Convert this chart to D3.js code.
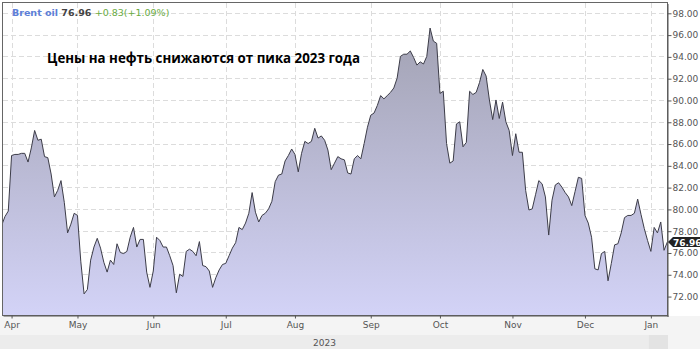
<!DOCTYPE html>
<html>
<head>
<meta charset="utf-8">
<script src="https://cdn.jsdelivr.net/npm/d3@7/dist/d3.min.js"></script>
<style>
	body { margin: 0; background: #fff; }
	svg { display: block; font-family: "DejaVu Sans", sans-serif; }
</style>
</head>
<body>
<svg id="chart" width="700" height="349"></svg>
<script>
// trading days run from startDate to endDate, weekends and holidays skipped
const startDate = "2023-03-29";
const endDate = "2024-01-09";
const holidays = ["2023-12-25", "2024-01-01"];

// Brent closes, one array per month
const closesMar = [78.5, 79.3, 79.8];
const closesApr = [84.9, 85.0, 85.0, 85.1, 85.1, 84.3, 85.6, 87.2, 86.3, 86.4,
	84.8, 84.7, 83.2, 81.1, 81.7, 82.6, 80.6, 77.8, 78.6, 79.6];
const closesMay = [79.4, 75.2, 72.2, 72.6, 75.3, 76.5, 77.3, 76.4, 75.1, 74.2,
	75.3, 74.9, 76.8, 76.0, 75.9, 76.1, 77.4, 78.3, 76.5, 77.2, 77.2, 74.2, 72.8];
const closesJun = [74.3, 77.4, 77.1, 76.5, 76.5, 75.7, 74.8, 72.3, 74.0, 73.8,
	76.1, 76.3, 76.1, 75.7, 77.0, 74.8, 74.7, 74.3, 72.8, 73.7, 74.4, 74.9];
const closesJul = [75.0, 75.7, 76.4, 76.9, 78.3, 78.1, 78.7, 79.6, 81.5, 79.7,
	78.8, 79.4, 79.6, 80.0, 80.7, 82.5, 83.1, 83.2, 84.4, 84.9, 85.5];
const closesAug = [85.0, 83.4, 85.1, 86.2, 86.0, 86.2, 87.4, 86.5, 86.7, 86.3,
	85.4, 83.6, 84.2, 84.8, 84.6, 84.5, 83.3, 83.2, 84.6, 84.9, 84.6, 86.0, 87.5];
const closesSep = [88.6, 88.8, 89.5, 90.4, 90.1, 90.4, 90.7, 91.1, 92.0, 94.0,
	94.2, 94.2, 94.5, 93.9, 93.2, 93.5, 93.3, 94.0, 96.6, 95.4, 95.2];
const closesOct = [90.6, 90.8, 86.0, 84.2, 84.4, 87.8, 88.0, 85.7, 86.1, 90.8,
	90.5, 90.7, 91.6, 92.8, 92.2, 90.0, 88.2, 90.0, 88.3, 89.8, 88.0, 87.2];
const closesNov = [84.9, 86.9, 85.2, 85.2, 81.7, 79.9, 80.0, 81.3, 82.6, 82.3,
	81.1, 77.6, 80.8, 82.2, 82.4, 82.0, 81.5, 81.1, 80.3, 81.6, 82.9, 82.8];
const closesDec = [79.4, 78.7, 77.4, 74.5, 74.4, 75.9, 76.1, 73.4, 75.0, 76.7,
	76.8, 77.8, 79.2, 79.4, 79.4, 79.6, 80.9, 79.5, 78.2, 77.1];
const closesJan = [76.1, 78.3, 77.8, 78.8, 76.2, 76.96];

const monthLabels = ["Apr", "May", "Jun", "Jul", "Aug", "Sep", "Oct", "Nov", "Dec", "Jan"];
const yearLabels = ["2023", ""];
const yTicks = [72, 74, 76, 78, 80, 82, 84, 86, 88, 90, 92, 94, 96, 98];

const instrument = "Brent oil";
const lastPrice = "76.96";
const change = "+0.83(+1.09%)";
const title = "Цены на нефть снижаются от пика 2023 года";

const closes = [].concat(closesMar, closesApr, closesMay, closesJun, closesJul,
	closesAug, closesSep, closesOct, closesNov, closesDec, closesJan);

// list of trading days
const fmt = d3.timeFormat("%Y-%m-%d");
const days = d3.timeDay
	.range(new Date(startDate + "T00:00"), d3.timeDay.offset(new Date(endDate + "T00:00"), 1))
	.filter((d) => d.getDay() !== 0 && d.getDay() !== 6 && !holidays.includes(fmt(d)));

const data = days.map((d, i) => ({ date: d, value: closes[i] }));

// first trading day of every month -> month tick
const monthStarts = [];
data.forEach((d, i) => {
	if (i > 0 && d.date.getMonth() !== data[i - 1].date.getMonth()) monthStarts.push(i);
});
const yearStarts = [0];
data.forEach((d, i) => {
	if (i > 0 && d.date.getFullYear() !== data[i - 1].date.getFullYear()) yearStarts.push(i);
});

const plot = { left: 3, right: 668, top: 3, bottom: 316 };

const svg = d3.select("#chart");

const x = d3.scaleLinear().domain([0.4, 202.2]).range([plot.left, plot.right]);
const y = d3.scaleLinear().domain([70.17, 98.9]).range([plot.bottom, plot.top]);

// bottom strips
svg.append("rect").attr("x", 0).attr("y", plot.bottom).attr("width", 700).attr("height", 349 - plot.bottom)
	.attr("fill", "#f4f4f4");
const yearEdges = yearStarts.map((i) => (i === 0 ? 0 : x(i) - 2)).concat([plot.right]);
svg.selectAll("rect.year").data(yearLabels).join("rect")
	.attr("class", "year")
	.attr("x", (d, i) => yearEdges[i])
	.attr("y", 335)
	.attr("width", (d, i) => yearEdges[i + 1] - yearEdges[i])
	.attr("height", 14)
	.attr("fill", (d, i) => (i === 0 ? "#ececec" : "#e3e3e3"));
svg.selectAll("text.year").data(yearLabels).join("text")
	.attr("class", "year")
	.attr("x", (d, i) => (yearEdges[i] + yearEdges[i + 1]) / 2)
	.attr("y", 346)
	.attr("text-anchor", "middle")
	.attr("font-size", 9)
	.attr("fill", "#555")
	.text((d) => d);

svg.append("rect").attr("x", plot.left).attr("y", plot.top)
	.attr("width", plot.right - plot.left).attr("height", plot.bottom - plot.top)
	.attr("fill", "#fff");

// grid
svg.append("g").selectAll("line").data(yTicks).join("line")
	.attr("x1", plot.left).attr("x2", plot.right)
	.attr("y1", (d) => Math.round(y(d)) + 0.5).attr("y2", (d) => Math.round(y(d)) + 0.5)
	.attr("stroke", "#dcdcdc").attr("stroke-dasharray", "5,3");
svg.append("g").selectAll("line").data(monthStarts).join("line")
	.attr("x1", (d) => Math.round(x(d)) + 0.5).attr("x2", (d) => Math.round(x(d)) + 0.5)
	.attr("y1", plot.top).attr("y2", plot.bottom)
	.attr("stroke", "#dcdcdc").attr("stroke-dasharray", "5,3");

// gradient for the area
const grad = svg.append("defs").append("linearGradient")
	.attr("id", "fill").attr("gradientUnits", "userSpaceOnUse")
	.attr("x1", 0).attr("x2", 0).attr("y1", y(96.6)).attr("y2", plot.bottom);
grad.append("stop").attr("offset", "0").attr("stop-color", "#a2a2b3");
grad.append("stop").attr("offset", "1").attr("stop-color", "#d3d3f7");

svg.select("defs").append("clipPath").attr("id", "clip")
	.append("rect").attr("x", plot.left).attr("y", plot.top)
	.attr("width", plot.right - plot.left).attr("height", plot.bottom - plot.top);

const area = d3.area()
	.x((d, i) => x(i))
	.y0(plot.bottom)
	.y1((d) => y(d.value));
const line = d3.line()
	.x((d, i) => x(i))
	.y((d) => y(d.value));

const g = svg.append("g").attr("clip-path", "url(#clip)");
g.append("path").datum(data).attr("d", area).attr("fill", "url(#fill)");
g.append("path").datum(data).attr("d", line)
	.attr("fill", "none").attr("stroke", "#3c3c48").attr("stroke-width", 1);

// frame
svg.append("rect").attr("x", plot.left - 0.5).attr("y", plot.top - 0.5)
	.attr("width", plot.right - plot.left).attr("height", plot.bottom - plot.top)
	.attr("fill", "none").attr("stroke", "#666");

// axes
const yAxis = svg.append("g")
	.attr("transform", "translate(" + (plot.right - 0.5) + ",0.5)")
	.call(d3.axisRight(y).tickValues(yTicks).tickFormat(d3.format(".2f")).tickSize(4).tickSizeOuter(0));
yAxis.select(".domain").attr("stroke", "#555");
yAxis.selectAll(".tick line").attr("stroke", "#555");
yAxis.selectAll("text").attr("fill", "#555").attr("font-size", 9)
	.attr("font-family", "DejaVu Sans").attr("x", 5);

const xAxis = svg.append("g")
	.attr("transform", "translate(0," + (plot.bottom - 0.5) + ")")
	.call(d3.axisBottom(x).tickValues(monthStarts)
		.tickFormat((d, i) => monthLabels[i]).tickSize(3).tickSizeOuter(0));
xAxis.select(".domain").attr("stroke", "#555");
xAxis.selectAll(".tick line").attr("stroke", "#555");
xAxis.selectAll("text").attr("fill", "#555").attr("font-size", 9)
	.attr("font-family", "DejaVu Sans").attr("y", 6);

// last price marker
const lastY = y(data[data.length - 1].value);
svg.append("path")
	.attr("d", d3.line()([[plot.right, lastY], [plot.right + 5, lastY - 5], [700, lastY - 5],
		[700, lastY + 5], [plot.right + 5, lastY + 5]]) + "Z")
	.attr("fill", "#222");
svg.append("text")
	.attr("x", plot.right + 5).attr("y", lastY + 3.5)
	.attr("font-size", 9).attr("font-weight", "bold").attr("fill", "#fff")
	.text(lastPrice);

// legend
const legend = svg.append("text").attr("x", 12).attr("y", 16)
	.attr("font-size", 9.5).attr("font-weight", "bold");
legend.append("tspan").attr("fill", "#5d7fd8").text(instrument + " ");
legend.append("tspan").attr("fill", "#444").text(lastPrice + " ");
legend.append("tspan").attr("fill", "#6aab3f").attr("font-weight", "normal").text(change);

// title
svg.append("text")
	.attr("x", 47).attr("y", 63)
	.attr("font-family", "Open Sans")
	.attr("font-size", 13.3).attr("font-weight", "bold").attr("fill", "#000")
	.text(title);
</script>
</body>
</html>
